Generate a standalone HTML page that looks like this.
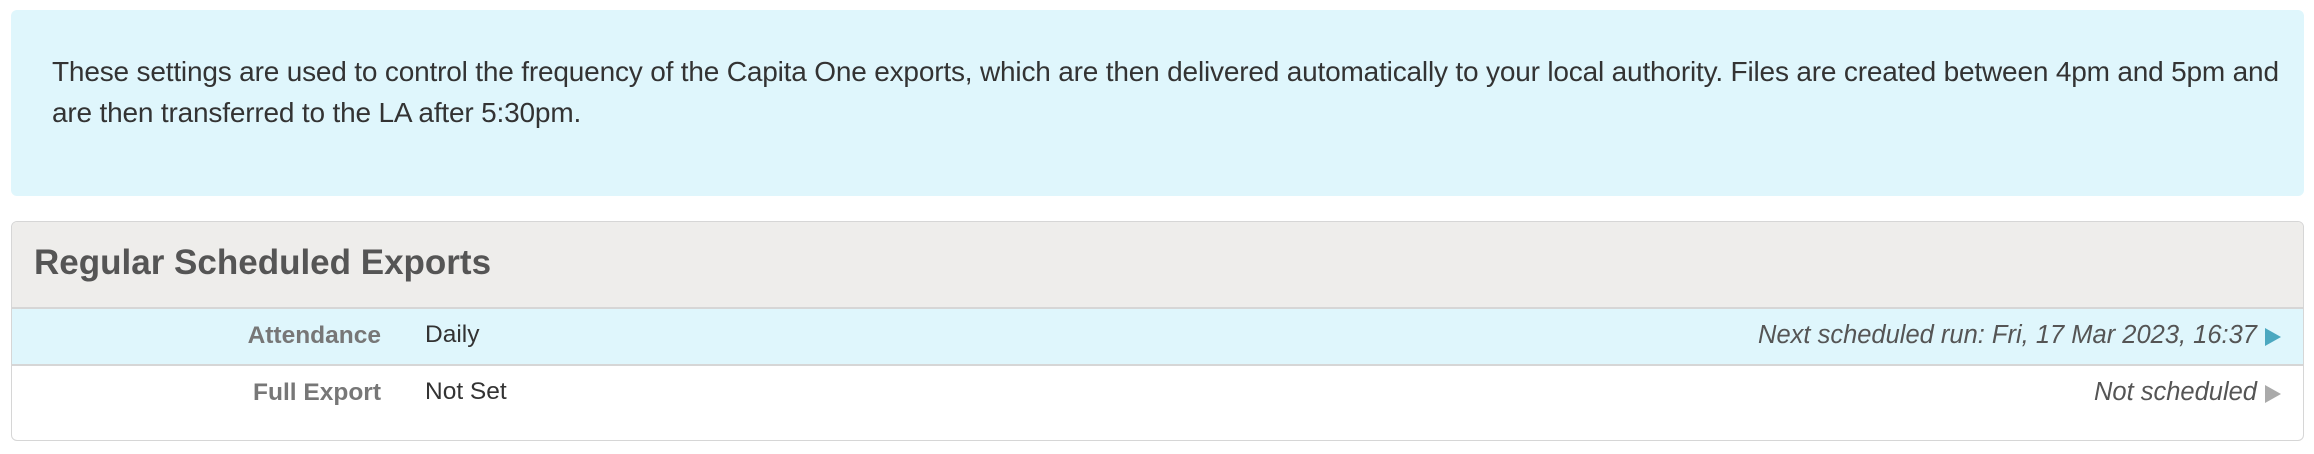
<!DOCTYPE html>
<html><head><meta charset="utf-8"><style>
body{margin:0;width:2314px;height:454px;background:#fff;font-family:"Liberation Sans",sans-serif;position:relative;overflow:hidden}
.info{position:absolute;left:11px;top:10px;width:2293px;height:186px;background:#dff6fc;border-radius:6px}
.info p{position:absolute;left:41px;top:41px;margin:0;font-size:28px;line-height:41px;color:#333;white-space:nowrap;letter-spacing:-0.18px}
.panel{position:absolute;left:11px;top:221px;width:2291px;height:218px;border:1.5px solid #d6d6d6;border-radius:6px;overflow:hidden}
.hd{position:absolute;left:0;top:0;right:0;height:85px;background:#eeedeb;border-bottom:2px solid #d6d6d6}
.hd span{position:absolute;left:22px;top:21px;font-size:35px;font-weight:bold;color:#555}
.row{position:absolute;left:0;right:0;height:55px}
.r1{top:87px;background:#dff6fc;border-bottom:2px solid #d6d6d6}
.r2{top:144px}
.lab{position:absolute;right:1922px;top:13px;font-size:24.5px;font-weight:bold;color:#777}
.val{position:absolute;left:413px;top:12px;font-size:24.5px;color:#333}
.nx{position:absolute;right:46px;top:12px;font-size:25.5px;font-style:italic;color:#555}
.ar{position:absolute;right:22px;top:19px;width:0;height:0;border-top:9px solid transparent;border-bottom:9px solid transparent;border-left:16px solid #4ba8c0}
.r2 .ar{border-left-color:#aaa}
</style></head><body>
<div class="info"><p>These settings are used to control the frequency of the Capita One exports, which are then delivered automatically to your local authority. Files are created between 4pm and 5pm and<br>are then transferred to the LA after 5:30pm.</p></div>
<div class="panel">
<div class="hd"><span>Regular Scheduled Exports</span></div>
<div class="row r1"><span class="lab">Attendance</span><span class="val">Daily</span><span class="nx">Next scheduled run: Fri, 17 Mar 2023, 16:37</span><span class="ar"></span></div>
<div class="row r2"><span class="lab">Full Export</span><span class="val">Not Set</span><span class="nx">Not scheduled</span><span class="ar"></span></div>
</div>
</body></html>
